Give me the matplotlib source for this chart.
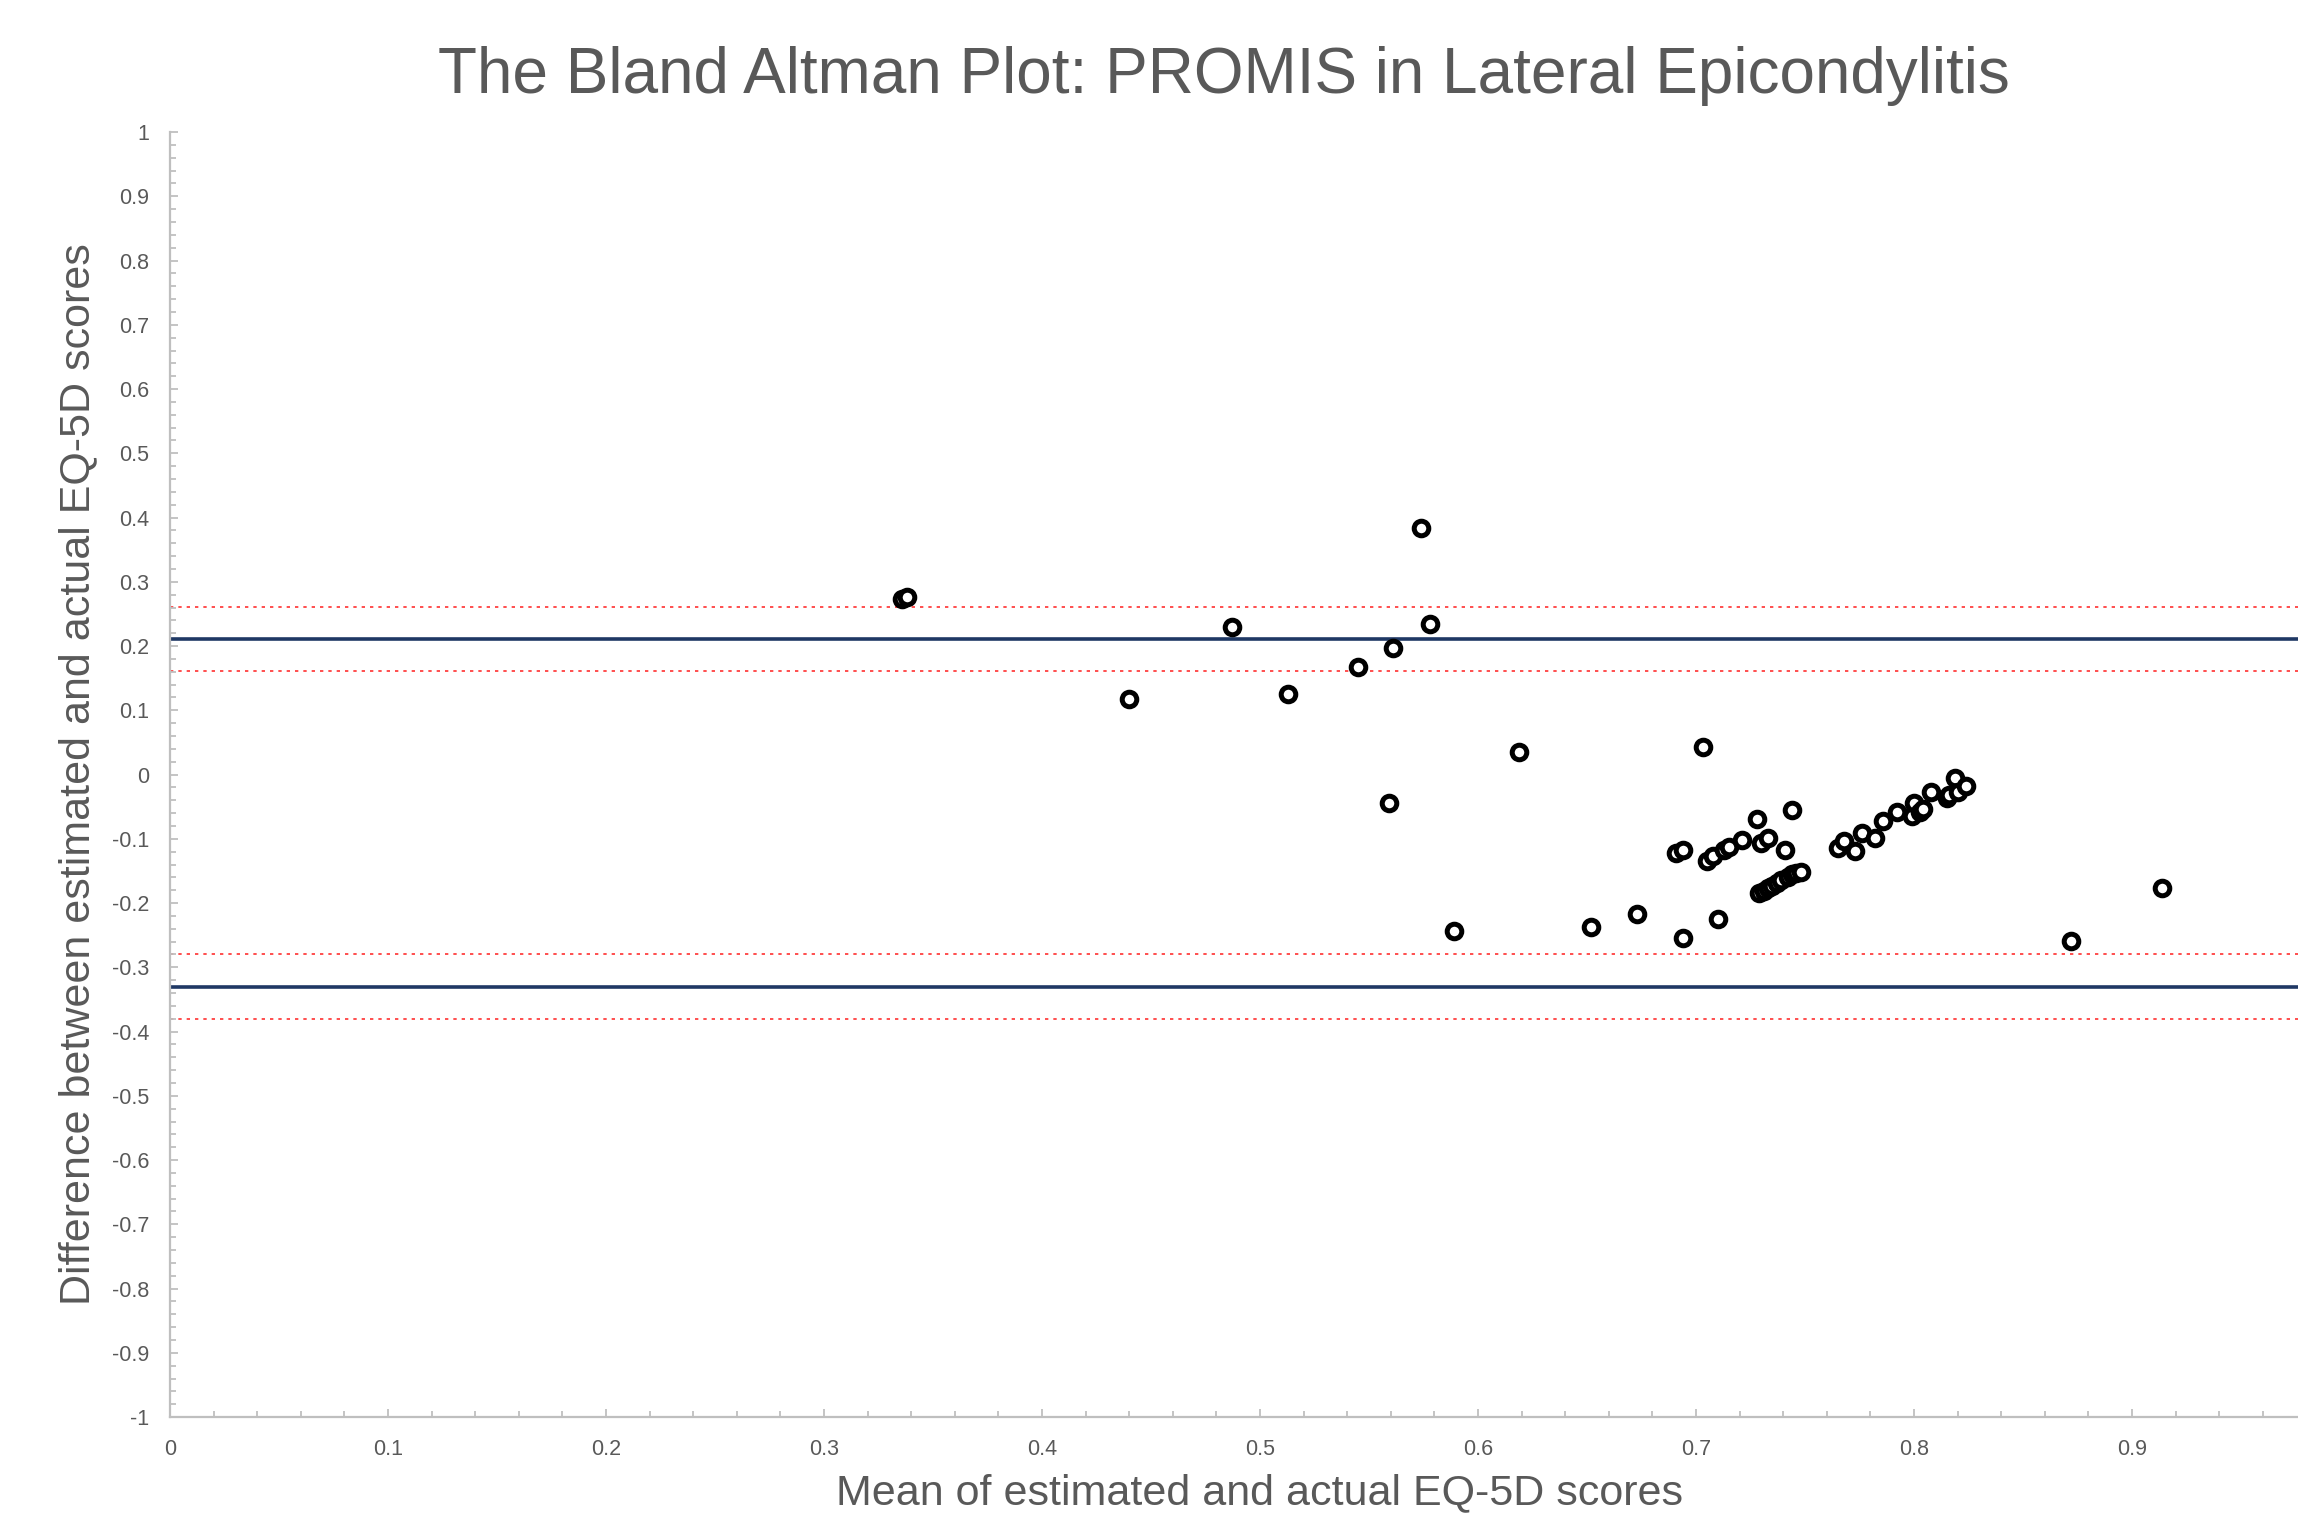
import matplotlib
matplotlib.use("Agg")
import matplotlib.pyplot as plt
from matplotlib.ticker import MultipleLocator, FuncFormatter

plt.rcParams['font.family'] = ['Liberation Sans', 'DejaVu Sans']

# Bland-Altman data: mean of estimated/actual EQ-5D vs difference
mean_scores = [
    0.336, 0.338, 0.440, 0.487, 0.513, 0.545, 0.561, 0.574, 0.578, 0.559,
    0.589, 0.619, 0.652, 0.673, 0.694, 0.703, 0.710, 0.691, 0.694, 0.705,
    0.708, 0.713, 0.715, 0.721, 0.728, 0.730, 0.733, 0.744, 0.741, 0.729,
    0.731, 0.733, 0.735, 0.737, 0.739, 0.742, 0.744, 0.746, 0.748, 0.765,
    0.768, 0.773, 0.776, 0.782, 0.786, 0.792, 0.799, 0.800, 0.803, 0.804,
    0.808, 0.815, 0.816, 0.819, 0.820, 0.824, 0.872, 0.914,
]
differences = [
    0.274, 0.277, 0.118, 0.230, 0.126, 0.168, 0.197, 0.384, 0.234, -0.044,
    -0.243, 0.035, -0.238, -0.217, -0.255, 0.043, -0.225, -0.122, -0.118, -0.135,
    -0.127, -0.117, -0.113, -0.102, -0.069, -0.107, -0.098, -0.055, -0.118, -0.185,
    -0.181, -0.176, -0.173, -0.169, -0.164, -0.159, -0.155, -0.153, -0.151, -0.114,
    -0.103, -0.119, -0.091, -0.098, -0.073, -0.059, -0.065, -0.044, -0.058, -0.054,
    -0.027, -0.037, -0.032, -0.006, -0.027, -0.018, -0.259, -0.177,
]

# limits of agreement and their confidence bands
limits_of_agreement = [0.211, -0.330]
ci_bounds = [0.261, 0.161, -0.280, -0.380]

text_grey = '#595959'
axis_grey = '#BFBFBF'

fig = plt.figure(figsize=(22.98, 15.18), dpi=100)
# the plot area runs a little past the right edge of the figure (x up to 1)
ax = fig.add_axes([0.074, 0.0665, 0.9486, 0.8465])

for y in ci_bounds:
    ax.axhline(y, color='#FF3030', linewidth=1.2, linestyle=(0, (2, 3)), zorder=1)
for y in limits_of_agreement:
    ax.axhline(y, color='#1F3864', linewidth=2.6, zorder=2)

ax.scatter(mean_scores, differences, s=110, facecolors='white', edgecolors='black',
           linewidths=3.6, zorder=3)

ax.set_xlim(0, 1)
ax.set_ylim(-1, 1)

ax.xaxis.set_major_locator(MultipleLocator(0.1))
ax.xaxis.set_minor_locator(MultipleLocator(0.02))
ax.yaxis.set_major_locator(MultipleLocator(0.1))
ax.yaxis.set_minor_locator(MultipleLocator(0.02))

ax.xaxis.set_major_formatter(FuncFormatter(lambda v, pos: '' if v > 0.95 else f"{round(v, 2) + 0:g}"))
ax.yaxis.set_major_formatter(FuncFormatter(lambda v, pos: f"{round(v, 2) + 0:g}"))

for side in ['top', 'right']:
    ax.spines[side].set_visible(False)
for side in ['left', 'bottom']:
    ax.spines[side].set_color(axis_grey)
    ax.spines[side].set_linewidth(1.6)

ax.tick_params(which='both', direction='in', color=axis_grey, width=1.3)
ax.tick_params(which='major', length=6, labelsize=15.5, labelcolor=text_grey)
ax.tick_params(which='minor', length=4)
ax.tick_params(axis='y', which='major', pad=15)
ax.tick_params(axis='x', which='major', pad=16)

fig.text(0.5326, 0.95, 'The Bland Altman Plot: PROMIS in Lateral Epicondylitis',
         ha='center', va='center', fontsize=46, color=text_grey)
fig.text(0.548, 0.016, 'Mean of estimated and actual EQ-5D scores',
         ha='center', va='center', fontsize=31, color=text_grey)
fig.text(0.034, 0.49, 'Difference between estimated and actual EQ-5D scores',
         ha='center', va='center', rotation=90, fontsize=31, color=text_grey)

fig.savefig('out.png', dpi=100)
